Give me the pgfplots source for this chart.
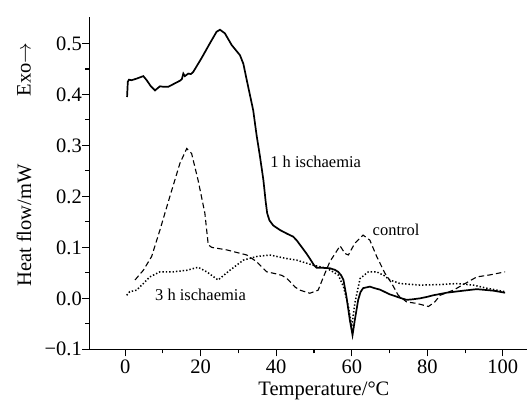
\documentclass[border=0pt]{standalone}
\usepackage{fontspec}
\setmainfont{Liberation Serif}
\usepackage{pgfplots}
\pgfplotsset{compat=1.18}

% DSC heat-flow traces
\pgfplotstableread{
t q
0.5 0.395
0.7 0.425
1.0 0.429
1.7 0.428
3.0 0.431
4.8 0.436
5.7 0.428
6.8 0.416
7.9 0.408
9.2 0.416
10.2 0.415
11.4 0.415
13.2 0.422
14.5 0.427
15.0 0.430
15.4 0.441
15.8 0.436
16.7 0.441
17.4 0.440
18.0 0.444
20.2 0.471
22.4 0.500
24.2 0.523
25.1 0.527
26.4 0.520
28.2 0.497
30.4 0.477
31.3 0.460
32.2 0.428
33.9 0.369
34.8 0.320
35.7 0.278
36.6 0.232
37.2 0.190
37.6 0.167
38.2 0.153
39.2 0.143
41.0 0.134
42.8 0.127
44.5 0.121
45.5 0.113
46.7 0.101
48.0 0.088
48.9 0.078
50.0 0.065
50.7 0.060
52.0 0.060
54.2 0.059
55.5 0.056
56.4 0.052
57.2 0.045
57.8 0.036
58.6 0.003
59.5 -0.043
60.2 -0.072
60.8 -0.043
61.7 -0.003
62.3 0.012
63.0 0.020
64.8 0.023
66.0 0.020
67.5 0.017
70.0 0.008
72.8 0.001
74.5 -0.003
76.0 -0.002
78.1 0.000
80.0 0.003
81.6 0.006
85.1 0.011
89.5 0.015
93.1 0.018
97.5 0.015
100.6 0.011
}\oneh

\pgfplotstableread{
t q
2.6 0.036
4.8 0.055
7.0 0.082
9.2 0.134
11.8 0.199
14.5 0.265
16.3 0.294
17.6 0.284
19.3 0.232
21.1 0.167
22.0 0.105
22.9 0.100
26.9 0.095
32.2 0.085
34.8 0.072
37.5 0.052
40.0 0.048
41.5 0.045
42.8 0.039
43.6 0.033
45.0 0.022
46.3 0.016
48.9 0.010
51.1 0.016
52.5 0.042
54.2 0.072
55.6 0.088
56.9 0.103
58.2 0.088
59.1 0.085
60.8 0.108
63.0 0.124
64.8 0.114
66.6 0.082
68.8 0.049
70.6 0.029
72.3 0.006
74.5 -0.007
77.2 -0.010
80.3 -0.016
82.0 -0.007
83.4 0.006
86.9 0.016
90.0 0.029
93.1 0.042
96.6 0.046
100.6 0.052
}\control

\pgfplotstableread{
t q
0.4 0.006
1.2 0.013
3.0 0.016
4.8 0.029
6.5 0.042
9.2 0.052
12.7 0.052
16.3 0.055
19.3 0.061
21.6 0.052
24.6 0.036
27.7 0.055
31.3 0.075
34.8 0.082
38.3 0.085
42.8 0.078
45.4 0.075
49.8 0.065
53.4 0.059
56.4 0.046
57.8 0.023
59.1 -0.016
60.0 -0.055
60.8 -0.010
62.2 0.039
64.4 0.052
66.6 0.052
68.5 0.045
70.1 0.036
72.8 0.029
78.1 0.026
83.4 0.027
87.8 0.029
92.2 0.026
95.7 0.020
100.6 0.013
}\threeh

\begin{document}
\begin{tikzpicture}
\begin{axis}[
  scale only axis,
  width=437.7pt, height=332.3pt,
  xmin=-9.5, xmax=106.4,
  ymin=-0.1, ymax=0.552,
  axis lines=left,
  axis line style={-, line width=1.5pt},
  tick align=outside,
  tick style={black, line width=1.1pt},
  major tick length=7pt,
  minor tick length=4pt,
  xtick={0,20,40,60,80,100},
  minor x tick num=1,
  ytick={-0.1,0,0.1,0.2,0.3,0.4,0.5},
  yticklabels={−0.1,0.0,0.1,0.2,0.3,0.4,0.5},
  minor y tick num=1,
  /pgf/number format/assume math mode=true,
  tick label style={font=\fontsize{20.5}{24}\selectfont},
  yticklabel style={xshift=3pt},
  clip=false,
]
\addplot[black, line width=1.7pt] table[x=t, y=q] {\oneh};
\addplot[black, line width=1.1pt, dash pattern=on 5.5pt off 3.2pt] table[x=t, y=q] {\control};
\addplot[black, line width=1.5pt, dash pattern=on 1.4pt off 2pt] table[x=t, y=q] {\threeh};

\node[anchor=base west, font=\fontsize{16.5}{20}\selectfont] at (axis cs:37.5,0.256) {1 h ischaemia};
\node[anchor=base west, font=\fontsize{16.5}{20}\selectfont] at (axis cs:64.6,0.124) {control};
\node[anchor=base west, font=\fontsize{16.5}{20}\selectfont] at (axis cs:7.0,-0.005) {3 h ischaemia};

\node[rotate=90, font=\fontsize{20.5}{24}\selectfont] at ([xshift=-65.3pt]axis description cs:0,0.3725) {Heat flow/mW};
\node[rotate=90, font=\fontsize{20.5}{24}\selectfont] at ([xshift=-65.3pt]axis description cs:0,0.843) {Exo$\rightarrow$};
\node[anchor=base, font=\fontsize{20.5}{24}\selectfont] at ([yshift=-45.7pt]axis description cs:0.536,0) {Temperature/°C};
\end{axis}
\pgfresetboundingbox
\path ([shift={(-89.3pt,-51.7pt)}]current axis.south west) rectangle ([shift={(0pt,17pt)}]current axis.north east);
\end{tikzpicture}
\end{document}
